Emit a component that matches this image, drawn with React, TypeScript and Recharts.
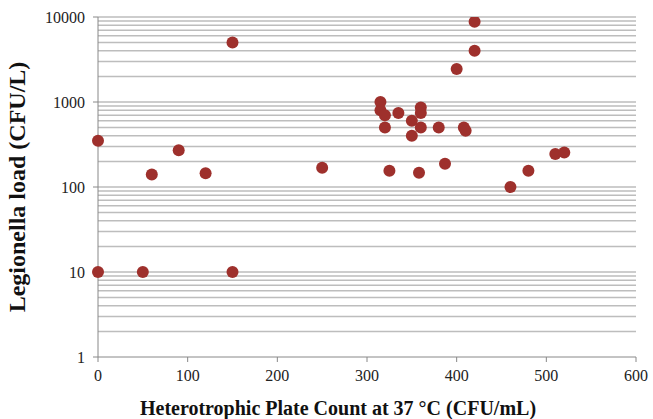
import { ScatterChart, Scatter, XAxis, YAxis, CartesianGrid } from "recharts";

const hpc = [
  0, 60, 90, 120, 150, 250, 420, 420, 400, 315, 315, 320, 335, 360, 360, 350,
  320, 360, 380, 408, 410, 350, 387, 325, 358, 460, 480, 510, 520, 0, 50, 150,
];
const legionella = [
  350, 140, 270, 145, 5000, 168, 8800, 4000, 2450, 1000, 800, 700, 740, 860,
  740, 600, 500, 500, 500, 500, 460, 400, 188, 155, 147, 100, 155, 245, 255, 10,
  10, 10,
];
const xTicks = [0, 100, 200, 300, 400, 500, 600];
const yTicks = [1, 10, 100, 1000, 10000];
const gridValues = [1, 10, 100, 1000].flatMap((d) =>
  [2, 3, 4, 5, 6, 7, 8, 9, 10].map((m) => m * d)
);

const points = hpc.map((x, i) => ({ x, y: legionella[i] }));

const tickStyle = { fill: "#222", fontSize: 16, fontFamily: "Liberation Serif" };
const titleStyle = {
  fill: "#111",
  fontSize: 20,
  fontWeight: 700,
  fontFamily: "Liberation Serif",
};

export default function App() {
  return (
    <div style={{ position: "absolute", left: 0, top: 0, background: "#fff" }}>
      <ScatterChart
        width={653}
        height={419}
        margin={{ top: 17, right: 17, bottom: 0, left: 0 }}
      >
        <CartesianGrid
          vertical={false}
          horizontalValues={gridValues}
          stroke="#bdbdbd"
          strokeWidth={1.5}
        />
        <XAxis
          type="number"
          dataKey="x"
          domain={[0, 600]}
          ticks={xTicks}
          interval={0}
          height={62}
          stroke="#888"
          tickSize={5}
          tick={tickStyle}
          tickMargin={8}
          label={{
            value: "Heterotrophic  Plate Count at 37 °C (CFU/mL)",
            position: "insideBottom",
            offset: 4,
            dx: -29,
            style: titleStyle,
          }}
        />
        <YAxis
          type="number"
          dataKey="y"
          scale="log"
          domain={[1, 10000]}
          ticks={yTicks}
          interval={0}
          allowDataOverflow
          width={98}
          stroke="#888"
          tickSize={5}
          tickMargin={8}
          tick={tickStyle}
          label={{
            value: "Legionella load (CFU/L)",
            angle: -90,
            position: "insideLeft",
            offset: 16,
            style: { ...titleStyle, fontSize: 24, textAnchor: "middle" },
          }}
        />
        <Scatter
          data={points}
          fill="#9e302c"
          isAnimationActive={false}
          shape={(p: any) => <circle cx={p.cx} cy={p.cy} r={6} fill="#9e302c" />}
        />
      </ScatterChart>
    </div>
  );
}
